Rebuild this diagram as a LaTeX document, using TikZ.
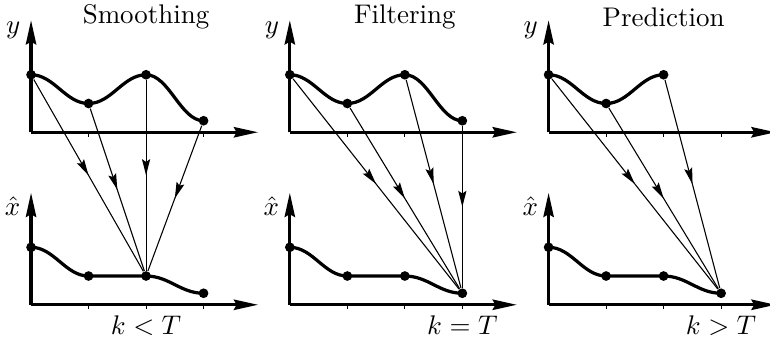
\documentclass[tikz,border=0pt]{standalone}
\usetikzlibrary{arrows.meta,decorations.markings}

\tikzset{
	axis/.style={line width=1.2pt,-{Stealth[length=9pt,width=3.8pt,inset=1pt]}},
	curve/.style={line width=1.2pt},
	dot/.style={circle,fill,inner sep=0pt,minimum size=3.6pt},
	link/.style={thin,postaction={decorate},
		decoration={markings,mark=at position 0.5 with {\arrow{Stealth[length=6pt,width=3pt,inset=1pt]}}}}
}

\begin{document}
\begin{tikzpicture}[x=0.75cm,y=0.75cm]
		\useasboundingbox (-0.54,-0.63) rectangle (12.85,5.30);
		% un panneau par estimateur, décalé de 4.5 unités
		\foreach \p/\name/\rel/\tk/\last [count=\i from 0] in {S/Smoothing/</2/3,F/Filtering/=/3/3,P/Prediction/>/3/2}{%
			\begin{scope}[shift={(4.5*\i,0)}]
			% axes haut (mesures) et bas (estimations)
			\draw[axis] (0,3) -- (3.95,3);
			\draw[axis] (0,3) -- (0,4.95);
			\draw[axis] (0,0) -- (3.95,0);
			\draw[axis] (0,0) -- (0,1.95);
			\foreach \t in {1,2,3}{%
				\draw[thin] (\t,3) -- ++(0,-0.08);
				\draw[thin] (\t,0) -- ++(0,-0.08);
				}
			% courbes
			\draw[curve] (0,4) .. controls (0.4,4) and (0.6,3.5) .. (1,3.5) .. controls (1.4,3.5) and (1.6,4) .. (2,4);
			\ifnum\last=3 \draw[curve] (2,4) .. controls (2.4,4) and (2.6,3.2) .. (3,3.2);\fi
			\draw[curve] (0,1) .. controls (0.4,1) and (0.6,0.5) .. (1,0.5) -- (2,0.5) .. controls (2.4,0.5) and (2.6,0.2) .. (3,0.2);
			% points
			\foreach \k/\h in {0/1,1/0.5,2/1,3/0.2}{%
				\ifnum\k>\last\else\node[dot] (\p u\k) at (\k,3+\h) {};\fi
				}
			\foreach \k/\h in {0/1,1/0.5,2/0.5,3/0.2}{%
				\node[dot] (\p l\k) at (\k,\h) {};
				}
			% flèches vers l'estimation au temps k
			\foreach \k in {0,...,\last}{%
				\draw[link] (\p u\k) -- (\p l\tk);
				}
			% textes
			\node (\p title) at (2,5.0) {\name};
			\node (\p k) at (\tk,-0.36) {$k \rel T$};
			\node (\p y) at (-0.31,4.77) {$y$};
			\node (\p x) at (-0.32,1.72) {$\hat{x}$};
			\end{scope}
			}
	\end{tikzpicture}
\end{document}
